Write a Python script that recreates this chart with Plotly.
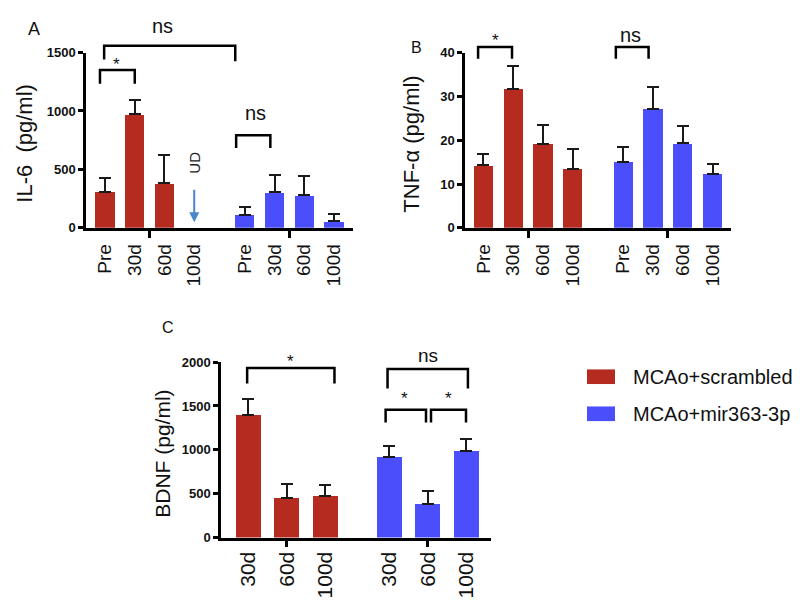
import plotly.graph_objects as go

# ---------------- data ----------------
labels_ab = ["Pre", "30d", "60d", "100d"]
labels_c = ["30d", "60d", "100d"]
series_names = ["MCAo+scrambled", "MCAo+mir363-3p"]

il6_scr = [310, 970, 380, None]          # 100d undetectable (UD)
il6_scr_sem = [120, 120, 245, None]
il6_mir = [110, 305, 278, 55]
il6_mir_sem = [68, 147, 165, 60]

tnf_scr = [14.3, 31.7, 19.1, 13.5]
tnf_scr_sem = [2.5, 5.3, 4.3, 4.4]
tnf_mir = [15.0, 27.2, 19.3, 12.4]
tnf_mir_sem = [3.5, 4.9, 3.9, 2.1]

bdnf_scr = [1400, 455, 470]
bdnf_scr_sem = [178, 156, 130]
bdnf_mir = [922, 378, 989]
bdnf_mir_sem = [122, 155, 133]

# ---------------- styling ----------------
RED = "#B52B20"
BLUE = "#4B4EFB"
FONT = "Liberation Sans, Arial, Helvetica, sans-serif"
W, H = 800, 600


def px(x):
    return x / W


def py(y):
    return 1 - y / H


panels = {
    "A": dict(xa="x", ya="y", dx=[px(78), px(345)], dy=[py(218.3), py(38.5)],
              xr=[-0.64, 8.34], yr=[0, 1500], ticks=[0, 500, 1000, 1500], gap=4.7,
              lab=19, stand=6),
    "B": dict(xa="x2", ya="y2", dx=[px(457), px(723)], dy=[py(218.3), py(38.7)],
              xr=[-0.62, 8.32], yr=[0, 40], ticks=[0, 10, 20, 30, 40], gap=4.7,
              lab=19, stand=6),
    "C": dict(xa="x3", ya="y3", dx=[px(213), px(483)], dy=[py(536), py(356)],
              xr=[-0.71, 6.31], yr=[0, 2000], ticks=[0, 500, 1000, 1500, 2000], gap=3.67,
              lab=21, stand=3),
}


def ypap(p, v):
    d0, d1 = panels[p]["dy"]
    r0, r1 = panels[p]["yr"]
    return d0 + (v - r0) / (r1 - r0) * (d1 - d0)


fig = go.Figure()

data = {
    "A": (labels_ab, il6_scr, il6_scr_sem, il6_mir, il6_mir_sem),
    "B": (labels_ab, tnf_scr, tnf_scr_sem, tnf_mir, tnf_mir_sem),
    "C": (labels_c, bdnf_scr, bdnf_scr_sem, bdnf_mir, bdnf_mir_sem),
}

for p, (labs, s_v, s_e, m_v, m_e) in data.items():
    cfg = panels[p]
    n = len(labs)
    pos_s = list(range(n))
    pos_m = [i + cfg["gap"] for i in range(n)]
    for pos, vals, errs, col, name in [(pos_s, s_v, s_e, RED, series_names[0]),
                                       (pos_m, m_v, m_e, BLUE, series_names[1])]:
        fig.add_trace(go.Bar(
            x=pos, y=vals, width=0.65, name=name, showlegend=False,
            marker=dict(color=col, line=dict(width=0)),
            error_y=dict(type="data", symmetric=False, array=errs,
                         arrayminus=[0] * n, color="#1a1a1a", thickness=2, width=6),
            xaxis=cfg["xa"], yaxis=cfg["ya"]))
    cfg["pos_s"], cfg["pos_m"], cfg["labs"] = pos_s, pos_m, labs

layout = dict(width=W, height=H, margin=dict(l=0, r=0, t=0, b=0),
              plot_bgcolor="white", paper_bgcolor="white", showlegend=False,
              bargap=0, font=dict(family=FONT, color="#111"))

for p, cfg in panels.items():
    xk = "xaxis" if cfg["xa"] == "x" else "xaxis" + cfg["xa"][1:]
    yk = "yaxis" if cfg["ya"] == "y" else "yaxis" + cfg["ya"][1:]
    n = len(cfg["labs"])
    centers = [(n - 1) / 2, (n - 1) / 2 + cfg["gap"]]
    layout[xk] = dict(domain=cfg["dx"], range=cfg["xr"], anchor=cfg["ya"],
                      showline=True, linecolor="black", linewidth=2.5,
                      showgrid=False, zeroline=False, ticks="",
                      tickmode="array", tickvals=cfg["pos_s"] + cfg["pos_m"],
                      ticktext=cfg["labs"] * 2, tickangle=-90,
                      ticklabelstandoff=cfg["stand"],
                      tickfont=dict(family=FONT, size=cfg["lab"], color="#111"),
                      minor=dict(tickmode="array", tickvals=centers, ticks="outside",
                                 ticklen=7, tickwidth=2.5, tickcolor="black"))
    layout[yk] = dict(domain=cfg["dy"], range=cfg["yr"], anchor=cfg["xa"],
                      showline=True, linecolor="black", linewidth=2.5,
                      showgrid=False, zeroline=False, ticks="outside",
                      ticklen=5, tickwidth=2.5, tickcolor="black",
                      tickmode="array", tickvals=cfg["ticks"],
                      tickfont=dict(family=FONT, size=13, color="#111",
                                    weight="bold"))

fig.update_layout(**layout)

shapes = []
annotations = []

LW = 2.5


def bracket(p, x1, x2, ytop, yleg1, yleg2=None):
    if yleg2 is None:
        yleg2 = yleg1
    path = (f"M {x1},{ypap(p, yleg1)} L {x1},{ypap(p, ytop)} "
            f"L {x2},{ypap(p, ytop)} L {x2},{ypap(p, yleg2)}")
    shapes.append(dict(type="path", path=path, xref=panels[p]["xa"], yref="paper",
                       line=dict(color="black", width=LW)))


def label(p, x, y, text, size, yshift=0):
    annotations.append(dict(x=x, y=ypap(p, y), xref=panels[p]["xa"], yref="paper",
                            text=text, showarrow=False, yshift=yshift,
                            font=dict(family=FONT, size=size, color="#111"),
                            xanchor="center", yanchor="middle"))


# Panel A brackets
bracket("A", -0.17, 1.0, 1350, 1233)
label("A", 0.37, 1420, "*", 17, yshift=-3)
bracket("A", -0.03, 4.38, 1558, 1440, 1425)
label("A", 1.92, 1725, "ns", 20)
bracket("A", 4.41, 5.56, 792, 683)
label("A", 5.05, 985, "ns", 20)

# Panel B brackets
bracket("B", -0.18, 0.96, 41.3, 38.6)
label("B", 0.42, 43.4, "*", 17, yshift=-3)
bracket("B", 4.45, 5.55, 41.3, 38.6)
label("B", 4.95, 44.0, "ns", 20)

# Panel C brackets
bracket("C", -0.03, 2.24, 1933, 1756)
label("C", 1.09, 2044, "*", 17, yshift=-3)
bracket("C", 3.62, 5.71, 1922, 1700)
label("C", 4.67, 2078, "ns", 19)
bracket("C", 3.57, 4.62, 1456, 1311)
label("C", 4.06, 1622, "*", 17, yshift=-3)
bracket("C", 4.75, 5.66, 1456, 1311)
label("C", 5.21, 1622, "*", 17, yshift=-3)

# UD marker in panel A
annotations.append(dict(x=3, y=ypap("A", 560), xref="x", yref="paper", text="UD",
                        textangle=-90, showarrow=False, xanchor="center",
                        yanchor="middle",
                        font=dict(family=FONT, size=15, color="#222")))
annotations.append(dict(x=3, y=ypap("A", 48), xref="x", yref="paper", text="",
                        showarrow=True, ax=0, ay=-34, arrowhead=2, arrowsize=1,
                        arrowwidth=2, arrowcolor="#4A86C8"))

# Axis titles and panel letters
for txt, x, y, size in [("IL-6  (pg/ml)", 17, 132, 22),
                        ("TNF-α (pg/ml)", 404, 133, 22),
                        ("BDNF (pg/ml)", 155, 450, 21)]:
    annotations.append(dict(x=px(x), y=py(y), xref="paper", yref="paper", text=txt,
                            textangle=-90, showarrow=False, xanchor="center",
                            yanchor="middle",
                            font=dict(family=FONT, size=size, color="#111")))
for txt, x, y, size in [("A", 26, 14, 18), ("B", 408, 33, 16), ("C", 160, 320, 16)]:
    annotations.append(dict(x=px(x), y=py(y), xref="paper", yref="paper", text=txt,
                            showarrow=False, xanchor="center", yanchor="middle",
                            font=dict(family=FONT, size=size, color="#111")))

# Legend (drawn manually to match the wide swatches)
for name, col, yc in [(series_names[0], RED, 371), (series_names[1], BLUE, 409)]:
    shapes.append(dict(type="rect", xref="paper", yref="paper",
                       x0=px(579), x1=px(607), y0=py(yc + 7.5), y1=py(yc - 7.5),
                       fillcolor=col, line=dict(width=0)))
    annotations.append(dict(x=px(623), y=py(yc), xref="paper", yref="paper", text=name,
                            showarrow=False, xanchor="left", yanchor="middle",
                            font=dict(family=FONT, size=20, color="#111")))

fig.update_layout(shapes=shapes, annotations=annotations)
fig.write_html("out.html")
